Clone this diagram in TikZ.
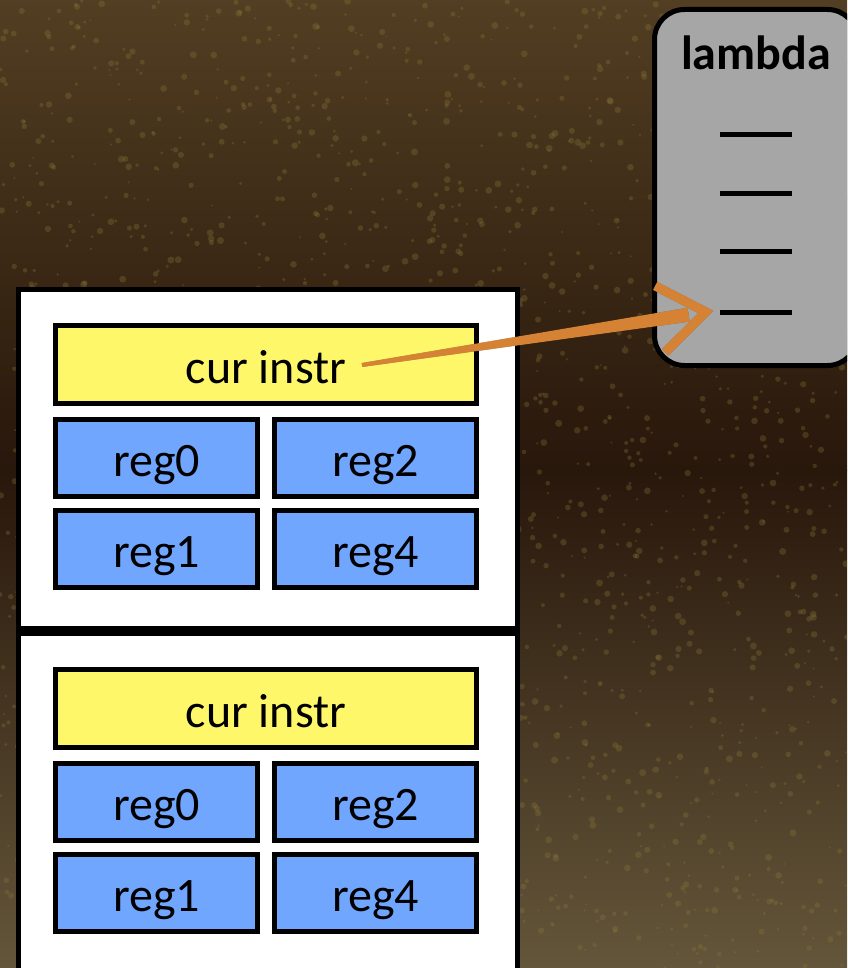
\documentclass[tikz,border=0pt]{standalone}
\usepackage{fontspec}
\setmainfont{Carlito}
\usetikzlibrary{positioning,calc}
\definecolor{bgtop}{RGB}{82,62,34}
\definecolor{bgmid}{RGB}{40,23,11}
\definecolor{bgbot}{RGB}{100,86,58}
\definecolor{speck}{RGB}{140,122,58}
\definecolor{instry}{RGB}{255,247,106}
\definecolor{regb}{RGB}{113,166,255}
\definecolor{lamg}{RGB}{166,166,166}
\definecolor{arrowc}{RGB}{214,130,52}

\begin{document}
\begin{tikzpicture}[x=1pt,y=-1pt,
 box/.style={draw=black,line width=5pt,inner sep=0pt,text height=37pt,text depth=0pt,font=\fontsize{48}{52}\selectfont},
 instr/.style={box,fill=instry,minimum width=421pt,minimum height=78pt},
 reg/.style={box,fill=regb,minimum width=202pt,minimum height=77.5pt},
 frm/.style={draw=black,fill=white,line width=5pt,minimum width=499pt,minimum height=339pt},
 bar/.style={font=\bfseries\fontsize{48}{52}\selectfont,anchor=base,inner sep=0pt}]
\useasboundingbox (0,0) rectangle (847,968);
\clip (0,0) rectangle (847,968);
% background
\shade[top color=bgtop,bottom color=bgmid] (0,0) rectangle (847,470);
\shade[top color=bgmid,bottom color=bgbot] (0,470) rectangle (847,968);
\pgfmathsetseed{7}
\foreach \i in {1,...,2200}
 \fill[speck,opacity=0.3] ({rnd*847},{rnd*968}) circle ({1+rnd*2.5});
% two stack frames
\foreach \f/\dy in {1/0,2/344}{
 \node[frm] (frame\f) at (268,{458.5+\dy}) {};
 \node[instr] (cur\f) at (266,{364.7+\dy}) {cur instr};
 \node[reg,below right=10.5pt and 0pt of cur\f.south west] (r\f-0) {reg0};
 \node[reg,right=12pt of r\f-0] (r\f-2) {reg2};
 \node[reg,below=8.4pt of r\f-0] (r\f-1) {reg1};
 \node[reg,right=12pt of r\f-1] (r\f-4) {reg4};
}
% the lambda with its slots
\node[draw=black,line width=5pt,fill=lamg,rounded corners=30pt,minimum width=203pt,minimum height=356pt] (lam) at (756,187.5) {};
\node[bar] (lamtitle) at (756,70) {lambda};
\foreach \i/\yy in {1/135,2/194,3/252,4/312}
 \node[inner sep=0pt] (slot\i) at (756,\yy) {\rule{72pt}{5pt}};
% pointer from cur instr into the lambda
\coordinate (tail) at ($(cur1.center)+(96,0.3)$);
\coordinate (tip) at ($(slot4.west)+(-14,0)$);
\coordinate (neck) at ($(tail)!0.95!(tip)$);
\foreach \sx/\sy/\col/\op in {5/7/black/0.35,0/0/arrowc/1}{
 \begin{scope}[shift={(\sx,\sy)},\col,opacity=\op]
  \fill ($(tail)!2pt!90:(tip)$) -- ($(neck)!7pt!90:(tip)$) -- ($(neck)!7pt!-90:(tip)$) -- ($(tail)!2pt!-90:(tip)$) -- cycle;
  \draw[line width=9pt,line join=miter] ($(tip)!57pt!36:(tail)$) -- (tip) -- ($(tip)!57pt!-36:(tail)$);
 \end{scope}
}
\end{tikzpicture}
\end{document}
